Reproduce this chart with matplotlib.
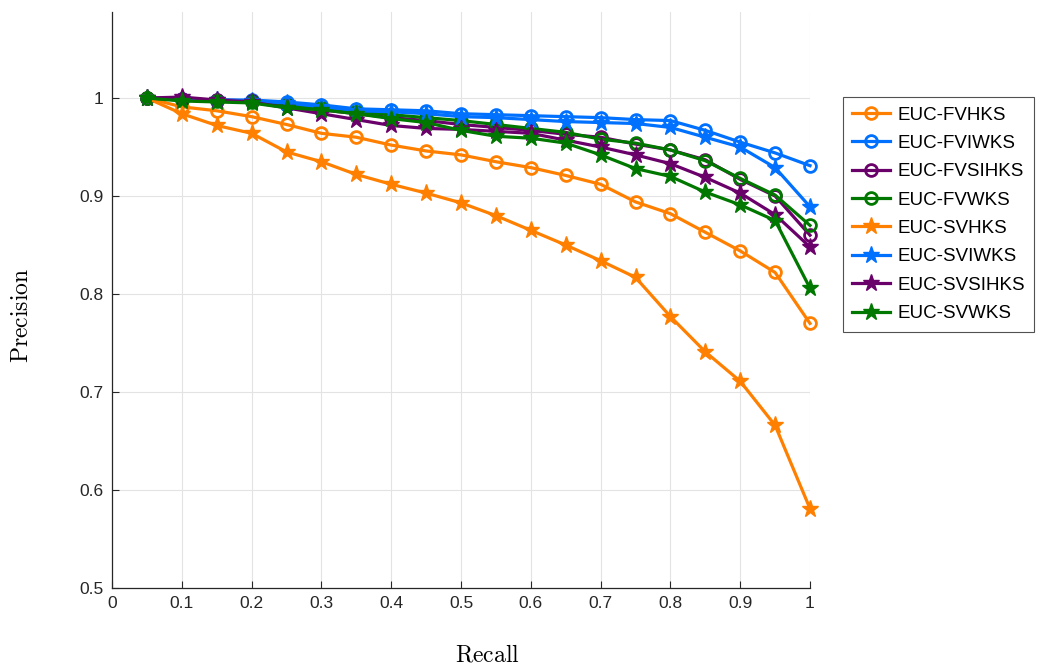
import numpy as np
import matplotlib
matplotlib.use("Agg")
import matplotlib.pyplot as plt

plt.rcParams['font.family'] = ['Liberation Sans', 'DejaVu Sans']
plt.rcParams['mathtext.fontset'] = 'cm'

# Recall values
recall = [0.05, 0.10, 0.15, 0.20, 0.25, 0.30, 0.35, 0.40, 0.45, 0.50,
          0.55, 0.60, 0.65, 0.70, 0.75, 0.80, 0.85, 0.90, 0.95, 1.00]

# Precision per method
fv_hks = [1.000, 0.991, 0.987, 0.981, 0.973, 0.964, 0.960, 0.952, 0.946, 0.942,
          0.935, 0.929, 0.921, 0.912, 0.894, 0.882, 0.863, 0.844, 0.822, 0.770]
fv_iwks = [1.000, 0.999, 0.998, 0.998, 0.996, 0.993, 0.989, 0.988, 0.987, 0.984,
           0.983, 0.982, 0.981, 0.980, 0.978, 0.977, 0.967, 0.955, 0.944, 0.931]
fv_sihks = [1.000, 0.999, 0.998, 0.997, 0.993, 0.988, 0.984, 0.980, 0.977, 0.973,
            0.970, 0.967, 0.963, 0.960, 0.953, 0.947, 0.937, 0.917, 0.900, 0.860]
fv_wks = [1.000, 0.998, 0.997, 0.996, 0.993, 0.990, 0.986, 0.983, 0.980, 0.977,
          0.973, 0.969, 0.965, 0.958, 0.954, 0.947, 0.936, 0.918, 0.901, 0.870]
sv_hks = [1.000, 0.984, 0.972, 0.964, 0.945, 0.935, 0.922, 0.912, 0.903, 0.893,
          0.880, 0.865, 0.850, 0.834, 0.817, 0.777, 0.741, 0.711, 0.666, 0.581]
sv_iwks = [1.000, 0.999, 0.998, 0.997, 0.995, 0.991, 0.987, 0.986, 0.984, 0.981,
           0.980, 0.978, 0.976, 0.975, 0.974, 0.970, 0.960, 0.950, 0.929, 0.889]
sv_sihks = [1.000, 1.001, 0.998, 0.996, 0.990, 0.984, 0.978, 0.972, 0.969, 0.968,
            0.966, 0.964, 0.957, 0.950, 0.942, 0.933, 0.919, 0.903, 0.881, 0.848]
sv_wks = [1.000, 0.997, 0.996, 0.995, 0.990, 0.988, 0.984, 0.979, 0.975, 0.967,
          0.961, 0.959, 0.954, 0.942, 0.928, 0.920, 0.904, 0.891, 0.875, 0.806]

labels = ['EUC-FVHKS', 'EUC-FVIWKS', 'EUC-FVSIHKS', 'EUC-FVWKS',
          'EUC-SVHKS', 'EUC-SVIWKS', 'EUC-SVSIHKS', 'EUC-SVWKS']
series = [fv_hks, fv_iwks, fv_sihks, fv_wks, sv_hks, sv_iwks, sv_sihks, sv_wks]

orange = '#ff8000'
blue = '#0070ff'
purple = '#6a006a'
green = '#007800'
colors = [orange, blue, purple, green] * 2

fig = plt.figure(figsize=(10.37, 6.68), dpi=100)
ax = fig.add_axes([112/1037, 80/668, 698/1037, 576/668])

for i, (lab, vals, c) in enumerate(zip(labels, series, colors)):
    if i < 4:
        ax.plot(recall, vals, color=c, lw=2.3, marker='o', ms=8.5,
                mfc='none', mec=c, mew=2.0, label=lab, clip_on=False)
    else:
        ax.plot(recall, vals, color=c, lw=2.3, marker='*', ms=12.5,
                mfc=c, mec=c, label=lab, clip_on=False)

ax.set_xlim(0, 1)
ax.set_ylim(0.5, 1.0878)
ax.set_xticks(np.arange(0, 1.01, 0.1))
ax.set_xticklabels(['0', '0.1', '0.2', '0.3', '0.4', '0.5', '0.6', '0.7', '0.8', '0.9', '1'])
ax.set_yticks([0.5, 0.6, 0.7, 0.8, 0.9, 1.0])
ax.set_yticklabels(['0.5', '0.6', '0.7', '0.8', '0.9', '1'])
ax.tick_params(direction='in', length=5, labelsize=12.5, colors='#262626', pad=6)
ax.grid(True, color='#e3e3e3', lw=0.8)
ax.set_axisbelow(True)
for s in ['top', 'right']:
    ax.spines[s].set_visible(False)
for s in ['left', 'bottom']:
    ax.spines[s].set_color('#262626')
    ax.spines[s].set_linewidth(0.9)

fig.text(487/1037, 1 - 656/668, r'$\mathrm{Recall}$', ha='center', va='center', fontsize=17)
fig.text(22/1037, 1 - 315/668, r'$\mathrm{Precision}$', ha='center', va='center',
         fontsize=17, rotation=90)

leg = ax.legend(loc='upper left', bbox_to_anchor=(843/1037, 1 - 97/668),
                bbox_transform=fig.transFigure, borderaxespad=0, fontsize=13.5,
                frameon=True, fancybox=False, edgecolor='#262626',
                handlelength=2.0, labelspacing=0.6, borderpad=0.5, handletextpad=0.4)
leg.get_frame().set_linewidth(0.8)

fig.savefig('out.png', dpi=100)
